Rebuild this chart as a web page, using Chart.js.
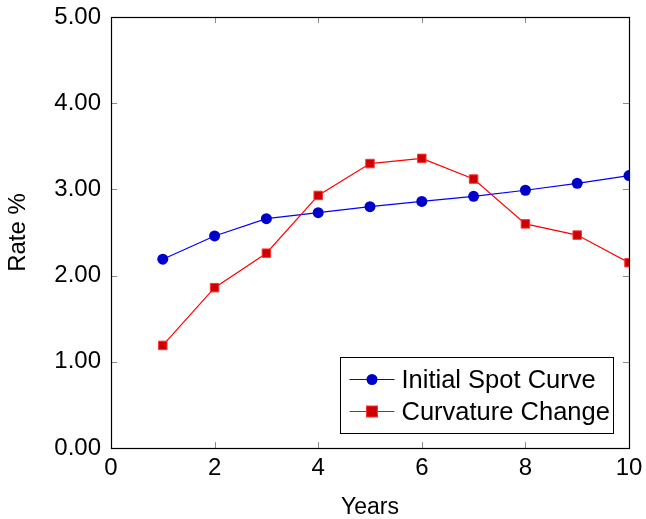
<!DOCTYPE html>
<html>
<head>
<meta charset="utf-8">
<script src="https://cdn.jsdelivr.net/npm/chart.js@4"></script>
<style>
  html, body { margin: 0; padding: 0; background: #fff; }
  #wrap { width: 646px; height: 519px; }
</style>
</head>
<body>
<div id="wrap"><canvas id="rate-chart" width="646" height="519"></canvas></div>
<script>
const years = [1, 2, 3, 4, 5, 6, 7, 8, 9, 10];
const initialSpot = [2.19, 2.46, 2.66, 2.73, 2.80, 2.86, 2.92, 2.99, 3.07, 3.16];
const curvatureChange = [1.19, 1.86, 2.26, 2.93, 3.30, 3.36, 3.12, 2.60, 2.47, 2.15];
const seriesNames = ["Initial Spot Curve", "Curvature Change"];
const xTicks = [0, 2, 4, 6, 8, 10];
const yTicks = [0, 1, 2, 3, 4, 5];

const FONT = "'Liberation Sans', Arial, sans-serif";

const toPoints = (vals) => vals.map((v, i) => ({ x: years[i], y: v }));

// frame + inward tick marks, pgfplots style
const framePlugin = {
  id: "frame",
  afterDatasetsDraw(chart) {
    const { ctx, chartArea: a, scales } = chart;
    ctx.save();
    ctx.strokeStyle = "#8a8a8a";
    ctx.lineWidth = 1;
    const len = 6;
    ctx.beginPath();
    xTicks.forEach((t) => {
      const px = Math.round(scales.x.getPixelForValue(t)) + 0.5;
      ctx.moveTo(px, a.bottom); ctx.lineTo(px, a.bottom - len);
      ctx.moveTo(px, a.top); ctx.lineTo(px, a.top + len);
    });
    yTicks.forEach((t) => {
      const py = Math.round(scales.y.getPixelForValue(t)) + 0.5;
      ctx.moveTo(a.left, py); ctx.lineTo(a.left + len, py);
      ctx.moveTo(a.right, py); ctx.lineTo(a.right - len, py);
    });
    ctx.stroke();
    ctx.strokeStyle = "#000";
    ctx.lineWidth = 1.2;
    ctx.strokeRect(Math.round(a.left) + 0.5, Math.round(a.top) + 0.5,
      Math.round(a.right - a.left), Math.round(a.bottom - a.top));
    ctx.restore();
  },
  afterDraw(chart) {
    // legend box inside the plot, lower right
    const { ctx } = chart;
    const ds = chart.data.datasets;
    const x0 = 340.5, y0 = 357.5, w = 273, h = 76;
    ctx.save();
    ctx.fillStyle = "#fff";
    ctx.fillRect(x0, y0, w, h);
    ctx.strokeStyle = "#000";
    ctx.lineWidth = 1;
    ctx.strokeRect(x0, y0, w, h);
    ctx.font = "25.5px " + FONT;
    ctx.textBaseline = "middle";
    ds.forEach((d, i) => {
      const cy = y0 + 22 + i * 32;
      ctx.strokeStyle = d.borderColor;
      ctx.lineWidth = 1;
      ctx.beginPath();
      ctx.moveTo(x0 + 9, cy); ctx.lineTo(x0 + 54, cy);
      ctx.stroke();
      ctx.fillStyle = d.pointBackgroundColor;
      ctx.strokeStyle = d.pointBorderColor;
      if (d.pointStyle === "rect") {
        ctx.fillRect(x0 + 26, cy - 5.5, 11, 11);
        ctx.strokeRect(x0 + 26, cy - 5.5, 11, 11);
      } else {
        ctx.beginPath();
        ctx.arc(x0 + 31.5, cy, 5.5, 0, Math.PI * 2);
        ctx.fill();
      }
      ctx.fillStyle = "#000";
      ctx.fillText(d.label, x0 + 61, cy + 1);
    });
    ctx.restore();
  },
};

new Chart(document.getElementById("rate-chart").getContext("2d"), {
  type: "line",
  data: {
    datasets: [
      {
        label: seriesNames[0],
        data: toPoints(initialSpot),
        borderColor: "#0000ff",
        borderWidth: 1.2,
        pointStyle: "circle",
        pointRadius: 5.5,
        pointBackgroundColor: "#0000cc",
        pointBorderColor: "#0000cc",
        pointBorderWidth: 0,
        order: 2,
      },
      {
        label: seriesNames[1],
        data: toPoints(curvatureChange),
        borderColor: "#ff0000",
        borderWidth: 1.2,
        pointStyle: "rect",
        pointRadius: 6,
        pointBackgroundColor: "#cc0000",
        pointBorderColor: "#ff3333",
        pointBorderWidth: 1,
        order: 1,
      },
    ],
  },
  options: {
    responsive: false,
    animation: false,
    layout: { padding: { top: 17, right: 17, left: 0, bottom: 0 } },
    plugins: { legend: { display: false }, tooltip: { enabled: false } },
    scales: {
      x: {
        type: "linear",
        min: 0,
        max: 10,
        afterBuildTicks: (s) => { s.ticks = xTicks.map((v) => ({ value: v })); },
        grid: { display: false, drawTicks: false },
        border: { display: false },
        ticks: { color: "#000", font: { family: FONT, size: 24, lineHeight: 1 }, padding: 8, maxRotation: 0 },
        title: { display: true, text: "Years", color: "#000", font: { family: FONT, size: 23, lineHeight: 1 }, padding: 0 },
        afterFit: (s) => { s.height = 71; s.paddingLeft = 0; s.paddingRight = 0; },
      },
      y: {
        type: "linear",
        min: 0,
        max: 5,
        afterBuildTicks: (s) => { s.ticks = yTicks.map((v) => ({ value: v })); },
        grid: { display: false, drawTicks: false },
        border: { display: false },
        ticks: {
          color: "#000",
          font: { family: FONT, size: 24, lineHeight: 1 },
          padding: 10,
          callback: (v) => Number(v).toFixed(2),
        },
        title: { display: true, text: "Rate %", color: "#000", font: { family: FONT, size: 24, lineHeight: 1 }, padding: 6 },
        afterFit: (s) => { s.width = 111; s.paddingTop = 0; s.paddingBottom = 0; },
      },
    },
  },
  plugins: [framePlugin],
});
</script>
</body>
</html>
